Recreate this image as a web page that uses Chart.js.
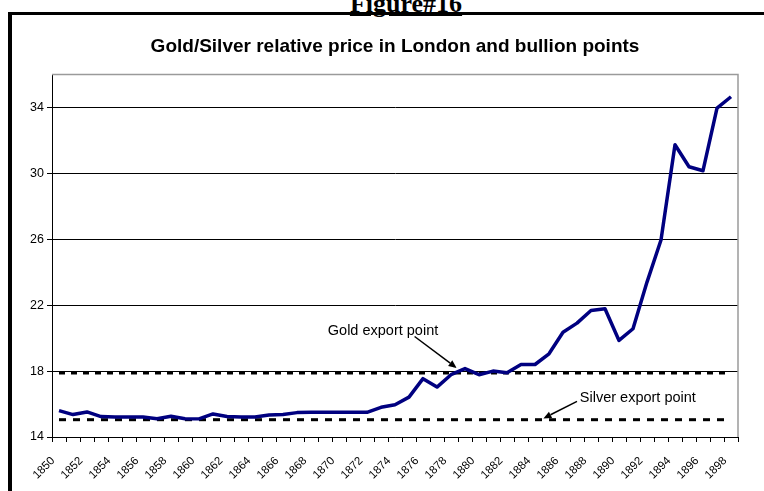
<!DOCTYPE html>
<html><head><meta charset="utf-8">
<script src="https://cdn.jsdelivr.net/npm/chart.js@4.4.0/dist/chart.umd.min.js"></script>
<style>
html,body{margin:0;padding:0;background:#fff;}
#wrap{position:relative;width:764px;height:491px;overflow:hidden;background:#fff;}
#frame{position:absolute;left:8px;top:12px;width:900px;height:700px;border-left:4px solid #000;border-top:3px solid #000;}
#fig{position:absolute;left:0;top:-9px;width:812px;text-align:center;font-family:"Liberation Serif","Times New Roman",serif;font-weight:bold;font-size:26px;line-height:26px;text-decoration:underline;text-decoration-thickness:3px;text-underline-offset:1px;color:#000;}
canvas{position:absolute;left:0;top:0;}
</style></head>
<body>
<div id="wrap"><div id="frame"></div><div id="fig">Figure#16</div><canvas id="c" width="764" height="491"></canvas></div>
<script>
// ---- data ----
const years = ['1850','1851','1852','1853','1854','1855','1856','1857','1858','1859',
  '1860','1861','1862','1863','1864','1865','1866','1867','1868','1869',
  '1870','1871','1872','1873','1874','1875','1876','1877','1878','1879',
  '1880','1881','1882','1883','1884','1885','1886','1887','1888','1889',
  '1890','1891','1892','1893','1894','1895','1896','1897','1898'];
const goldSilverRatio = [15.6,15.36,15.52,15.24,15.22,15.22,15.22,15.11,15.26,15.11,
  15.1,15.4,15.24,15.22,15.22,15.33,15.36,15.48,15.5,15.5,
  15.5,15.5,15.5,15.8,15.96,16.42,17.54,17.03,17.78,18.15,
  17.78,18.0,17.9,18.4,18.4,19.05,20.36,20.91,21.68,21.78,
  19.86,20.57,23.4,25.96,31.74,30.4,30.16,33.96,34.65];
const goldExportPoint = 17.9;
const silverExportPoint = 15.05;
const bullionSpan = ['1850','1898'];
const yTicks = [14,18,22,26,30,34];
const titleText = 'Gold/Silver relative price in London and bullion points';
const notes = [
  {text:'Gold export point', textAt:[1869.2,20.45], from:[1875.4,20.1], to:[1878.4,18.19]},
  {text:'Silver export point', textAt:[1887.2,16.35], from:[1887.0,16.16], to:[1884.6,15.13]}
];

const FONT = '"Liberation Sans", Arial, sans-serif';

// centre the title over the plot area rather than the whole canvas
const titleOverPlot = {
  id:'titleOverPlot',
  afterLayout(chart){
    if (chart.titleBlock) {
      chart.titleBlock.left = chart.chartArea.left;
      chart.titleBlock.right = chart.chartArea.right;
    }
  }
};

const plotBorder = {
  id:'plotBorder',
  beforeDatasetsDraw(chart){
    const {ctx, chartArea:a} = chart;
    ctx.save();
    ctx.strokeStyle = '#9a9a9a';
    ctx.lineWidth = 1.5;
    ctx.beginPath();
    ctx.moveTo(a.left, a.top);
    ctx.lineTo(a.right, a.top);
    ctx.lineTo(a.right, a.bottom);
    ctx.stroke();
    ctx.restore();
  }
};

const notePlugin = {
  id:'notes',
  afterDatasetsDraw(chart){
    const {ctx, scales:{x,y}} = chart;
    const px = yr => x.getPixelForValue(yr - Number(years[0]));
    ctx.save();
    ctx.fillStyle = '#000';
    ctx.strokeStyle = '#000';
    ctx.font = '14.5px ' + FONT;
    ctx.textBaseline = 'middle';
    ctx.textAlign = 'left';
    notes.forEach(n => {
      ctx.fillText(n.text, px(n.textAt[0]), y.getPixelForValue(n.textAt[1]));
      const x1 = px(n.from[0]), y1 = y.getPixelForValue(n.from[1]);
      const x2 = px(n.to[0]), y2 = y.getPixelForValue(n.to[1]);
      const ang = Math.atan2(y2-y1, x2-x1);
      const L = 8, W = 3.5;
      const bx = x2 - L*Math.cos(ang), by = y2 - L*Math.sin(ang);
      ctx.lineWidth = 1.5;
      ctx.beginPath(); ctx.moveTo(x1,y1); ctx.lineTo(bx,by); ctx.stroke();
      ctx.beginPath();
      ctx.moveTo(x2,y2);
      ctx.lineTo(bx + W*Math.sin(ang), by - W*Math.cos(ang));
      ctx.lineTo(bx - W*Math.sin(ang), by + W*Math.cos(ang));
      ctx.closePath(); ctx.fill();
    });
    ctx.restore();
  }
};

new Chart(document.getElementById('c'), {
  type:'line',
  data:{
    labels: years,
    datasets:[
      {label:'Gold/Silver', data: goldSilverRatio, borderColor:'#000080', borderWidth:3.5,
       pointRadius:0, tension:0, borderJoinStyle:'round', fill:false},
      {label:'Gold export point', data: bullionSpan.map(yr => ({x:yr, y:goldExportPoint})),
       borderColor:'#000', borderWidth:3.5, borderDash:[6,6], pointRadius:0, fill:false},
      {label:'Silver export point', data: bullionSpan.map(yr => ({x:yr, y:silverExportPoint})),
       borderColor:'#000', borderWidth:3, borderDash:[7,7], pointRadius:0, fill:false}
    ]
  },
  options:{
    responsive:false,
    animation:false,
    events:[],
    layout:{padding:{left:0, right:26, top:0, bottom:0}},
    plugins:{
      legend:{display:false},
      tooltip:{enabled:false},
      title:{display:true, text:titleText, color:'#000',
        font:{family:FONT, size:19, weight:'bold'}, padding:{top:35.6, bottom:16.1}}
    },
    scales:{
      x:{
        type:'category', offset:true,
        grid:{offset:true, drawOnChartArea:false, drawTicks:true, tickLength:5, color:'#000', lineWidth:1},
        border:{color:'#000', width:1},
        ticks:{autoSkip:false, minRotation:45, maxRotation:45, color:'#000', padding:12, labelOffset:-6,
          font:{family:FONT, size:11.5},
          callback:(v,i) => (i % 2 === 0 ? years[i] : '')},
        afterFit: s => { s.height = 54; }
      },
      y:{
        min:14, max:36,
        afterBuildTicks: s => { s.ticks = yTicks.map(v => ({value:v})); },
        grid:{color:'#000', lineWidth:1, tickLength:5, drawTicks:true},
        border:{color:'#000', width:1},
        ticks:{color:'#000', padding:3, font:{family:FONT, size:12.5}},
        afterFit: s => { s.width = 52; }
      }
    }
  },
  plugins:[titleOverPlot, plotBorder, notePlugin]
});
</script>
</body></html>
